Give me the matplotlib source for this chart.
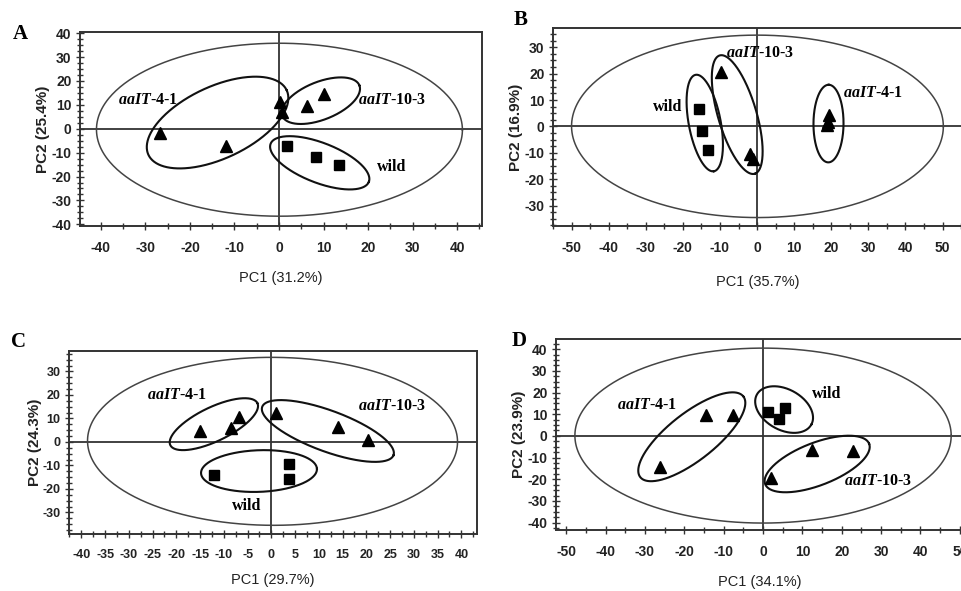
import numpy as np
import matplotlib
matplotlib.use("Agg")
import matplotlib.pyplot as plt
from matplotlib.ticker import MultipleLocator

plt.rcParams['axes.unicode_minus'] = False
plt.rcParams['mathtext.fontset'] = 'custom'
plt.rcParams['mathtext.rm'] = 'Liberation Serif:bold'
plt.rcParams['mathtext.it'] = 'Liberation Serif:italic:bold'
plt.rcParams['mathtext.bf'] = 'Liberation Serif:bold'
plt.rcParams['mathtext.bfit'] = 'Liberation Serif:italic:bold'

# ---------------- data ----------------
# Panel A
A_tri_x = [-26.7, -11.8, 0.2, 0.6, 6.2, 10.0]
A_tri_y = [-1.7, -7.2, 11.3, 7.1, 9.5, 14.4]
A_sq_x = [1.9, 8.2, 13.5]
A_sq_y = [-7.2, -12.0, -15.2]
# ellipses: xmin, xmax, ymin, ymax, x of top point
A_ell_big = [-41.0, 41.2, -36.6, 35.8, 0.0]
A_ell_41 = [-29.7, 2.1, -16.6, 21.8, -5.3]
A_ell_103 = [0.6, 18.2, 2.0, 21.5, 13.9]
A_ell_wild = [-2.0, 20.3, -25.4, -3.1, 2.4]
A_xlabel = "PC1 (31.2%)"
A_ylabel = "PC2 (25.4%)"

# Panel B
B_tri_x = [-9.7, -1.9, -1.2, 19.5, 18.8, 19.2]
B_tri_y = [20.6, -10.5, -12.5, 4.5, 0.6, 1.8]
B_sq_x = [-15.6, -14.9, -13.1]
B_sq_y = [6.8, -1.6, -8.9]
B_ell_big = [-50.0, 50.2, -34.5, 34.6, 0.0]
B_ell_wild = [-19.0, -9.2, -17.0, 19.6, -16.3]
B_ell_103 = [-12.2, 1.5, -18.0, 27.0, -9.6]
B_ell_41 = [15.2, 23.3, -13.6, 15.8, 19.3]
B_xlabel = "PC1 (35.7%)"
B_ylabel = "PC2 (16.9%)"

# Panel C
C_tri_x = [-15.0, -8.4, -6.8, 0.9, 14.0, 20.3]
C_tri_y = [4.7, 6.1, 10.7, 12.1, 6.4, 1.0]
C_sq_x = [-12.1, 3.7, 3.7]
C_sq_y = [-14.2, -9.5, -16.0]
C_ell_big = [-38.7, 39.2, -35.5, 36.0, 0.0]
C_ell_41 = [-21.4, -2.8, -3.5, 18.6, -5.6]
C_ell_103 = [-2.0, 25.8, -8.5, 17.8, 2.0]
C_ell_wild = [-14.8, 9.6, -21.3, -3.5, -1.5]
C_xlabel = "PC1 (29.7%)"
C_ylabel = "PC2 (24.3%)"

# Panel D
D_tri_x = [-26.1, -14.4, -7.7, 1.9, 12.5, 22.9]
D_tri_y = [-14.3, 9.8, 9.5, -19.4, -6.3, -6.8]
D_sq_x = [1.2, 4.0, 5.5]
D_sq_y = [11.1, 8.0, 13.0]
D_ell_big = [-47.8, 47.8, -40.2, 40.5, 0.0]
D_ell_41 = [-31.7, -4.5, -20.9, 20.1, -7.75]
D_ell_wild = [-2.0, 12.7, 1.4, 22.9, 2.8]
D_ell_103 = [0.4, 27.1, -26.0, 0.1, 21.8]
D_xlabel = "PC1 (34.1%)"
D_ylabel = "PC2 (23.9%)"

LBL41 = r'$\mathbfit{aaIT}$-4-1'
LBL103 = r'$\mathbfit{aaIT}$-10-3'
LBLW = 'wild'

# ---------------- figure ----------------
W, H = 961, 591
fig = plt.figure(figsize=(W / 100, H / 100), dpi=100)

BOX = {}

def add_ax(x0, x1, y0, y1):
    ax = fig.add_axes([x0 / W, 1 - y1 / H, (x1 - x0) / W, (y1 - y0) / H])
    BOX[ax] = (x0, x1, y0, y1)
    return ax

LINE = '#333333'
SANS = ['Liberation Sans', 'DejaVu Sans']

def style(ax, xlim, ylim, xmaj, xmin_, ymaj, ymin_, xlabel, ylabel,
          xlab_top_px, ylab_right_px, tfs=10):
    ax.set_xlim(*xlim)
    ax.set_ylim(*ylim)
    ax.xaxis.set_major_locator(MultipleLocator(xmaj))
    ax.xaxis.set_minor_locator(MultipleLocator(xmin_))
    ax.yaxis.set_major_locator(MultipleLocator(ymaj))
    ax.yaxis.set_minor_locator(MultipleLocator(ymin_))
    for s in ax.spines.values():
        s.set_color(LINE)
        s.set_linewidth(1.4)
    ax.tick_params(which='both', direction='inout', color=LINE, width=1.0,
                   top=False, right=False)
    ax.tick_params(which='major', length=6)
    ax.tick_params(axis='x', which='major', pad=8)
    ax.tick_params(axis='y', which='major', pad=3)
    ax.tick_params(which='minor', length=4)
    for lab in ax.get_xticklabels() + ax.get_yticklabels():
        lab.set_family(SANS)
        lab.set_fontweight('bold')
        lab.set_fontsize(tfs)
        lab.set_color('#222222')
    x0, x1, y0, y1 = BOX[ax]
    ax.set_xlabel(xlabel, family=SANS, fontsize=10.5, color='#222222')
    ax.set_ylabel(ylabel, family=SANS, fontweight='bold', fontsize=11,
                  color='#222222')
    ax.xaxis.set_label_coords(0.5, (y1 - xlab_top_px) / (y1 - y0))
    ax.yaxis.set_label_coords((ylab_right_px - x0) / (x1 - x0), 0.5)
    ax.axhline(0, color=LINE, lw=1.3, zorder=1)
    ax.axvline(0, color=LINE, lw=1.3, zorder=1)

def ellipse(ax, spec, lw=1.5, color='#111111'):
    xmin, xmax, ymin, ymax, xtop = spec
    T = ax.transData
    p0 = T.transform((xmin, ymin))
    p1 = T.transform((xmax, ymax))
    cxd, cyd = (xmin + xmax) / 2, (ymin + ymax) / 2
    pc = T.transform((cxd, cyd))
    hw = (p1[0] - p0[0]) / 2
    hh = (p1[1] - p0[1]) / 2
    ptx = T.transform((xtop, cyd))[0] - pc[0]
    S = (hw ** 2 + hh ** 2) / 2
    P = hw ** 2 - S
    Q = ptx * hh
    R = np.hypot(P, Q)
    a = np.sqrt(S + R)
    b = np.sqrt(max(S - R, 0.0))
    th = 0.5 * np.arctan2(Q, P)
    t = np.linspace(0, 2 * np.pi, 400)
    X = pc[0] + a * np.cos(t) * np.cos(th) - b * np.sin(t) * np.sin(th)
    Y = pc[1] + a * np.cos(t) * np.sin(th) + b * np.sin(t) * np.cos(th)
    d = T.inverted().transform(np.column_stack([X, Y]))
    ax.plot(d[:, 0], d[:, 1], color=color, lw=lw, zorder=2)

def points(ax, tx, ty, sx, sy):
    ax.plot(tx, ty, linestyle='none', marker='^', ms=8, color='black', zorder=3)
    ax.plot(sx, sy, linestyle='none', marker='s', ms=6.5, color='black', zorder=3)

def label(ax, x, y, s):
    ax.text(x, y, s, family=['Liberation Serif', 'DejaVu Serif'], fontweight='bold',
            fontsize=11.5, ha='left', va='center', zorder=4)

def panel_letter(px, py, s):
    fig.text(px / W, 1 - py / H, s, family=['Liberation Serif', 'DejaVu Serif'],
             fontweight='bold', fontsize=15, ha='center', va='center')

# Panel A
axA = add_ax(80, 482, 32, 226)
style(axA, (-44.7, 45.6), (-40.7, 40.5), 10, 5, 10, 2.5, A_xlabel, A_ylabel, 271, 50)
ellipse(axA, A_ell_big, lw=1.1, color='#444444')
for e in (A_ell_41, A_ell_103, A_ell_wild):
    ellipse(axA, e)
points(axA, A_tri_x, A_tri_y, A_sq_x, A_sq_y)
label(axA, -36.2, 12.0, LBL41)
label(axA, 17.8, 12.0, LBL103)
label(axA, 22.0, -15.9, LBLW)
panel_letter(20, 34, 'A')

# Panel B
axB = add_ax(553, 963, 28, 226)
style(axB, (-55.0, 55.5), (-37.7, 37.3), 10, 5, 10, 2.5, B_xlabel, B_ylabel, 275, 523)
ellipse(axB, B_ell_big, lw=1.1, color='#444444')
for e in (B_ell_wild, B_ell_103, B_ell_41):
    ellipse(axB, e)
points(axB, B_tri_x, B_tri_y, B_sq_x, B_sq_y)
label(axB, -8.4, 27.9, LBL103)
label(axB, -28.0, 7.3, LBLW)
label(axB, 23.2, 12.7, LBL41)
panel_letter(521, 20, 'B')

# Panel C
axC = add_ax(69, 477, 351, 534)
style(axC, (-42.6, 43.3), (-39.2, 38.7), 5, 2.5, 10, 2.5, C_xlabel, C_ylabel, 573, 42,
      tfs=9)
ellipse(axC, C_ell_big, lw=1.1, color='#444444')
for e in (C_ell_41, C_ell_103, C_ell_wild):
    ellipse(axC, e)
points(axC, C_tri_x, C_tri_y, C_sq_x, C_sq_y)
label(axC, -26.2, 19.9, LBL41)
label(axC, 18.2, 15.2, LBL103)
label(axC, -8.3, -27.3, LBLW)
panel_letter(18, 342, 'C')

# Panel D
axD = add_ax(556, 963, 339, 530)
style(axD, (-52.6, 50.8), (-43.4, 44.7), 10, 5, 10, 2.5, D_xlabel, D_ylabel, 575, 526)
ellipse(axD, D_ell_big, lw=1.1, color='#444444')
for e in (D_ell_41, D_ell_wild, D_ell_103):
    ellipse(axD, e)
points(axD, D_tri_x, D_tri_y, D_sq_x, D_sq_y)
label(axD, -37.0, 14.4, LBL41)
label(axD, 12.5, 19.5, LBLW)
label(axD, 20.5, -20.9, LBL103)
panel_letter(519, 341, 'D')

fig.savefig('out.png', dpi=100)
